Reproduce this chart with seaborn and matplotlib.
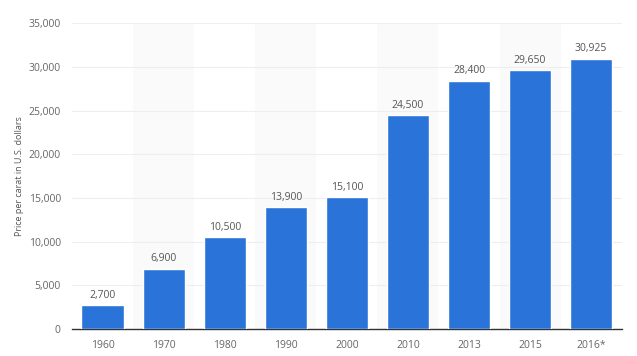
import pandas as pd
import seaborn as sns
import matplotlib.pyplot as plt
from matplotlib.ticker import FuncFormatter

years = ['1960', '1970', '1980', '1990', '2000', '2010', '2013', '2015', '2016*']
prices = [2700, 6900, 10500, 13900, 15100, 24500, 28400, 29650, 30925]
shaded = ['1970', '1990', '2010', '2015']  # light bands behind these columns

df = pd.DataFrame({'year': years, 'price': prices})

sns.set_style('white')
plt.rcParams['font.family'] = ['Open Sans', 'DejaVu Sans']

fig = plt.figure(figsize=(6.37, 3.56), dpi=100)
ax = fig.add_axes([0.113, 0.076, 0.863, 0.859])

# alternating background bands
for i, y in enumerate(years):
    if y in shaded:
        ax.axvspan(i - 0.5, i + 0.5, color='#fafafa', zorder=0, lw=0)

sns.barplot(data=df, x='year', y='price', color='#2a73d8', saturation=1,
            width=0.69, ax=ax, zorder=3)

for i, v in enumerate(prices):
    ax.text(i, v + 500, f'{v:,}', ha='center', va='bottom',
            fontsize=7.5, color='#555555', zorder=4)

ax.set_ylim(0, 35000)
ax.set_xlim(-0.5, len(years) - 0.5)
ax.set_yticks(range(0, 35001, 5000))
ax.yaxis.set_major_formatter(FuncFormatter(lambda v, p: f'{int(v):,}'))
ax.grid(axis='y', color='#eeeeee', lw=0.8, zorder=1)
ax.set_axisbelow(True)
for s in ['top', 'right', 'left']:
    ax.spines[s].set_visible(False)
ax.spines['bottom'].set_color('#333333')
ax.spines['bottom'].set_linewidth(1)
ax.tick_params(axis='both', length=0, labelsize=7.5, colors='#666666', pad=8)
ax.set_xlabel('')
ax.set_ylabel('Price per carat in U.S. dollars', fontsize=6.5, color='#555555', labelpad=3)

fig.savefig('out.png', dpi=100)
